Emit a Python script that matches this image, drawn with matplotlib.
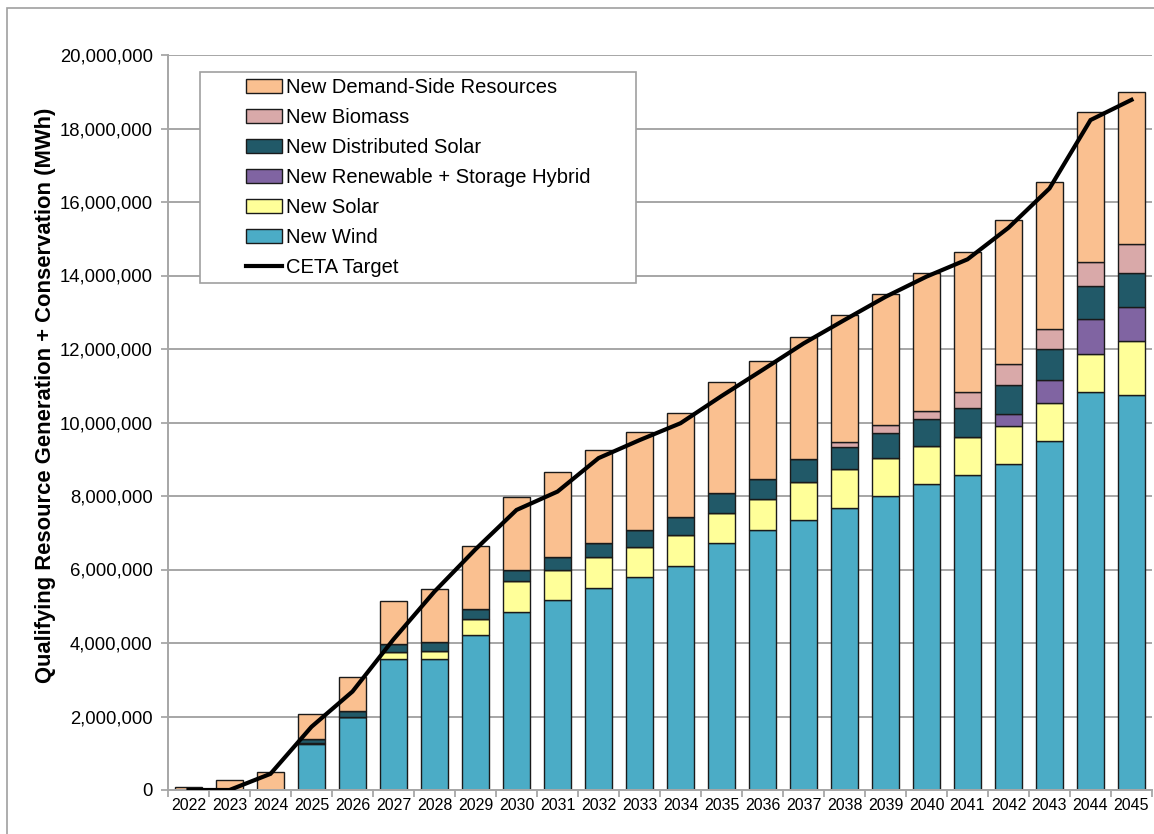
import matplotlib.pyplot as plt
from matplotlib.patches import Patch, Rectangle
from matplotlib.lines import Line2D
from matplotlib.ticker import FuncFormatter
import numpy as np

plt.rcParams['font.family'] = ['Liberation Sans', 'DejaVu Sans']

years = [str(y) for y in range(2022, 2046)]

# values in MWh (in millions)
new_wind = [0, 0, 0, 1.25, 2.00, 3.56, 3.56, 4.21, 4.85, 5.17, 5.50, 5.79, 6.10, 6.73,
            7.07, 7.36, 7.67, 8.00, 8.33, 8.57, 8.87, 9.50, 10.83, 10.75]
new_solar = [0, 0, 0, 0.03, 0, 0.20, 0.22, 0.43, 0.84, 0.83, 0.84, 0.83, 0.83, 0.82,
             0.85, 1.03, 1.06, 1.03, 1.04, 1.04, 1.04, 1.03, 1.04, 1.46]
new_hybrid = [0, 0, 0, 0, 0, 0, 0, 0, 0, 0, 0, 0, 0, 0,
              0, 0, 0, 0, 0, 0, 0.31, 0.62, 0.95, 0.93]
new_dist_solar = [0, 0, 0, 0.10, 0.15, 0.20, 0.25, 0.28, 0.30, 0.35, 0.39, 0.45, 0.50, 0.52,
                  0.55, 0.61, 0.61, 0.68, 0.72, 0.78, 0.80, 0.84, 0.89, 0.93]
new_biomass = [0, 0, 0, 0, 0, 0, 0, 0, 0, 0, 0, 0, 0, 0,
               0, 0, 0.13, 0.22, 0.23, 0.43, 0.56, 0.56, 0.67, 0.80]
new_dsr = [0.08, 0.28, 0.48, 0.69, 0.93, 1.18, 1.43, 1.72, 1.99, 2.29, 2.52, 2.66, 2.84, 3.03,
           3.20, 3.34, 3.46, 3.58, 3.74, 3.83, 3.92, 3.99, 4.08, 4.12]
ceta_target = [0, 0, 0.44, 1.72, 2.68, 4.10, 5.40, 6.55, 7.62, 8.12, 9.03, 9.52, 9.98, 10.72,
               11.43, 12.15, 12.79, 13.42, 13.97, 14.44, 15.30, 16.37, 18.23, 18.78]

series = [
    ('New Wind', new_wind, '#4BACC6'),
    ('New Solar', new_solar, '#FFFF99'),
    ('New Renewable + Storage Hybrid', new_hybrid, '#8064A2'),
    ('New Distributed Solar', new_dist_solar, '#215968'),
    ('New Biomass', new_biomass, '#D9A9A9'),
    ('New Demand-Side Resources', new_dsr, '#FAC090'),
]

fig = plt.figure(figsize=(11.54, 8.34), dpi=100)
W, H = 1154, 834
ax = fig.add_axes([168 / W, (H - 790) / H, (1152 - 168) / W, (790 - 55) / H])

x = np.arange(len(years))
bottom = np.zeros(len(years))
for name, vals, col in series:
    v = np.array(vals) * 1e6
    ax.bar(x, v, bottom=bottom, width=0.66, color=col, edgecolor='#1a1a1a',
           linewidth=1.0, zorder=2)
    bottom += v

ax.plot(x, np.array(ceta_target) * 1e6, color='black', linewidth=3.0, zorder=3,
        solid_joinstyle='miter')

ax.set_xlim(-0.5, len(years) - 0.5)
ax.set_ylim(0, 20e6)
ax.set_yticks(np.arange(0, 20e6 + 1, 2e6))
ax.yaxis.set_major_formatter(FuncFormatter(lambda v, p: f'{int(v):,}'))
ax.set_xticks(x)
ax.set_xticklabels(years)
ax.set_xticks(np.arange(-0.5, len(years)), minor=True)
ax.tick_params(axis='x', which='major', length=0, labelsize=11.5, pad=6)
ax.tick_params(axis='x', which='minor', length=5, color='#A0A0A0', width=1.2)
ax.tick_params(axis='y', length=5, color='#A0A0A0', width=1.2, labelsize=13.3, pad=6)

ax.grid(axis='y', color='#A6A6A6', linewidth=1.4, zorder=0)
ax.set_axisbelow(True)
for s in ['top', 'right']:
    ax.spines[s].set_visible(False)
for s in ['left', 'bottom']:
    ax.spines[s].set_color('#A6A6A6')
    ax.spines[s].set_linewidth(1.4)

ax.set_ylabel('Qualifying Resource Generation + Conservation (MWh)', fontsize=15.8,
              fontweight='bold')
ax.yaxis.set_label_coords(-0.114, 0.537)

# legend: top-down order as in the picture
handles = [Patch(facecolor=col, edgecolor='#1a1a1a', linewidth=1.0, label=name)
           for name, _, col in reversed(series)]
handles.append(Line2D([0], [0], color='black', linewidth=3, label='CETA Target'))
leg = fig.legend(handles=handles, loc='upper left',
                 bbox_to_anchor=(246 / W, 1 - 78 / H), frameon=False,
                 fontsize=14.5, handlelength=1.8, handleheight=0.7,
                 handletextpad=0.2, labelspacing=0.55, borderaxespad=0, borderpad=0)
fig.patches.append(Rectangle((200 / W, 1 - 283 / H), 436 / W, 211 / H,
                             transform=fig.transFigure, facecolor='white',
                             edgecolor='#A0A0A0', linewidth=1.2, zorder=5))
leg.set_zorder(6)

# outer chart frame
fig.patches.append(Rectangle((7 / W, -0.1), 1.2, 1 - 8 / H + 0.1,
                             transform=fig.transFigure, facecolor='none',
                             edgecolor='#A0A0A0', linewidth=1.2))

fig.savefig('out.png', dpi=100)
